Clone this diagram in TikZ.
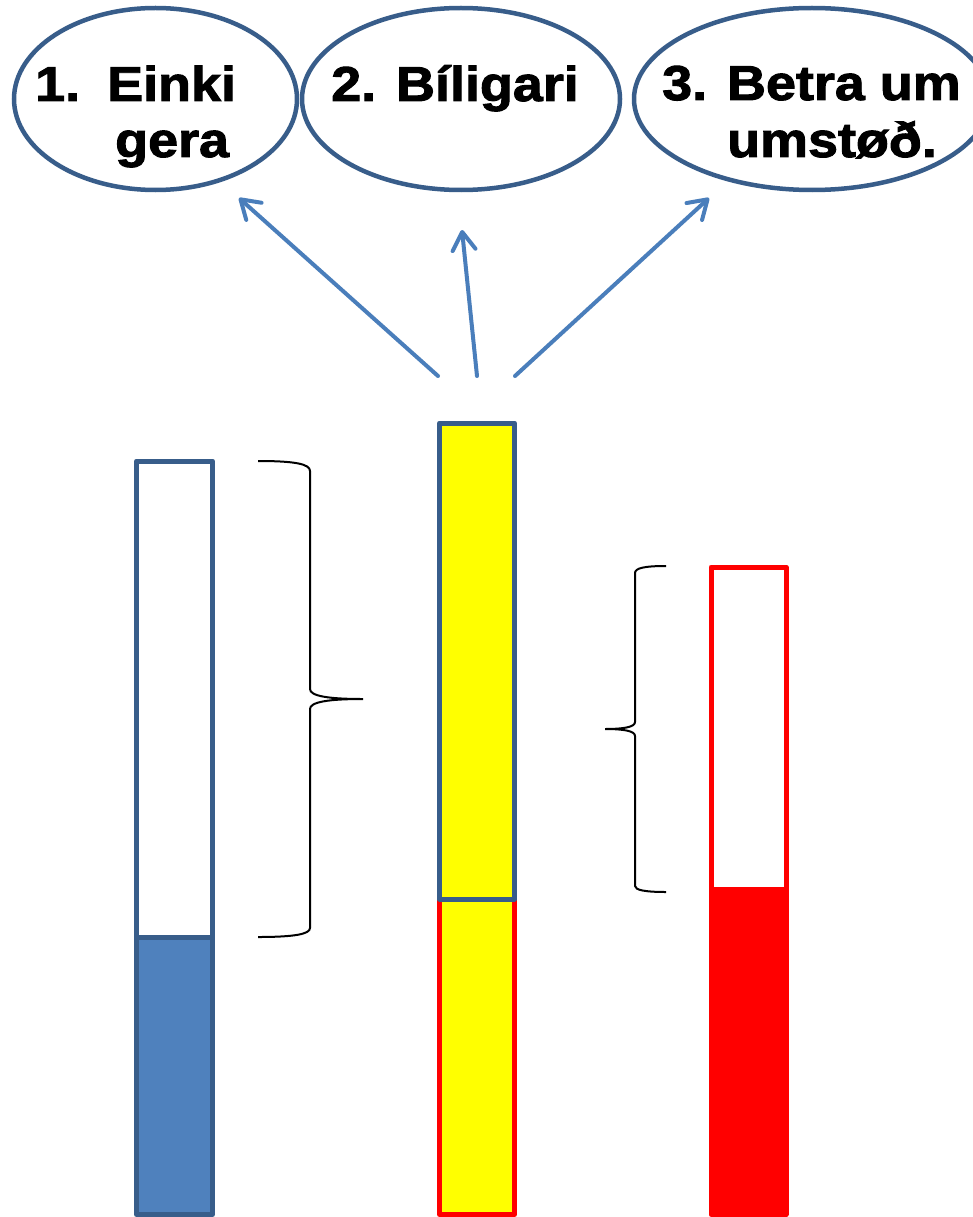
\documentclass[tikz,border=0pt]{standalone}
\usepackage{fontspec}
\setmainfont{Liberation Sans}
\newfontfamily\heavyfont{Liberation Sans}[BoldFeatures={FakeBold=2,FakeStretch=1.1}]
\usetikzlibrary{shapes.geometric,arrows.meta}

\definecolor{outlineblue}{HTML}{385D8A}
\definecolor{arrowblue}{HTML}{4A7EBB}
\definecolor{fillblue}{HTML}{4F81BD}
\definecolor{brightyellow}{HTML}{FFFF00}
\definecolor{brightred}{HTML}{FF0000}

\tikzset{
  bubble/.style={draw=outlineblue, line width=4.5pt, fill=white, ellipse, inner sep=0pt},
  label/.style={font=\heavyfont\bfseries\fontsize{49}{56}\selectfont, anchor=base west, inner sep=0pt, text=black},
  choice/.style={draw=arrowblue, line width=4pt, line cap=round,
                 -{Straight Barb[length=18pt,width=23pt,line cap=round,line join=round]}},
  barpart/.style={line width=5pt, line join=round},
  brace/.style={draw=black, line width=2pt, line cap=butt}
}

\begin{document}
\begin{tikzpicture}[x=1pt,y=-1pt]
  \useasboundingbox (0,0) rectangle (973,1217);
  \clip (0,0) rectangle (973,1217);

  % the three options
  \node[bubble, minimum width=283, minimum height=182] (opt1) at (155.5,99) {};
  \node[bubble, minimum width=318, minimum height=182] (opt2) at (461,99) {};
  \node[bubble, minimum width=356, minimum height=182] (opt3) at (812,99) {};

  \node[label] (n1) at (35,101) {1.};
  \node[label] (t1a) at (107,101) {Einki};
  \node[label] (t1b) at (115,157) {gera};
  \node[label] (t2) at (331,101) {2. Bíligari};
  \node[label] (t3a) at (662,100) {3. Betra um};
  \node[label] (t3b) at (727,157) {umstøð.};

  % arrows towards the options
  \coordinate (s1) at (438,376);
  \coordinate (s2) at (477,376);
  \coordinate (s3) at (515,376);
  \coordinate (e1) at (239,198);
  \coordinate (e2) at (462,230);
  \coordinate (e3) at (709,198);
  \draw[choice] (s1) -- (e1);
  \draw[choice] (s2) -- (e2);
  \draw[choice] (s3) -- (e3);

  % left bar
  \draw[barpart, draw=outlineblue, fill=fillblue] (136.5,937.5) rectangle (212.5,1214.5);
  \draw[barpart, draw=outlineblue, fill=white] (136.5,461) rectangle (212.5,937.5);

  % middle bar
  \draw[barpart, draw=brightred, fill=brightyellow] (439.5,899) rectangle (514.5,1214.5);
  \draw[barpart, draw=outlineblue, fill=brightyellow] (439.5,423) rectangle (514.5,899);

  % right bar
  \draw[barpart, draw=brightred, fill=brightred] (711,889) rectangle (786,1214.5);
  \draw[barpart, draw=brightred, fill=white] (711,567) rectangle (786,889);

  % closing brace beside the left bar
  \draw[brace] (258,461) .. controls (295,461) and (310,464) .. (310,471)
    -- (310,689) .. controls (310,696) and (328,699) .. (363,699)
    .. controls (328,699) and (310,702) .. (310,709)
    -- (310,928) .. controls (310,934) and (295,937) .. (258,937);

  % opening brace beside the right bar
  \draw[brace] (666,566) .. controls (645,566) and (635,568) .. (635,573)
    -- (635,722) .. controls (635,727) and (624,729) .. (605,729)
    .. controls (624,729) and (635,731) .. (635,736)
    -- (635,886) .. controls (635,890) and (645,892) .. (666,892);
\end{tikzpicture}
\end{document}
